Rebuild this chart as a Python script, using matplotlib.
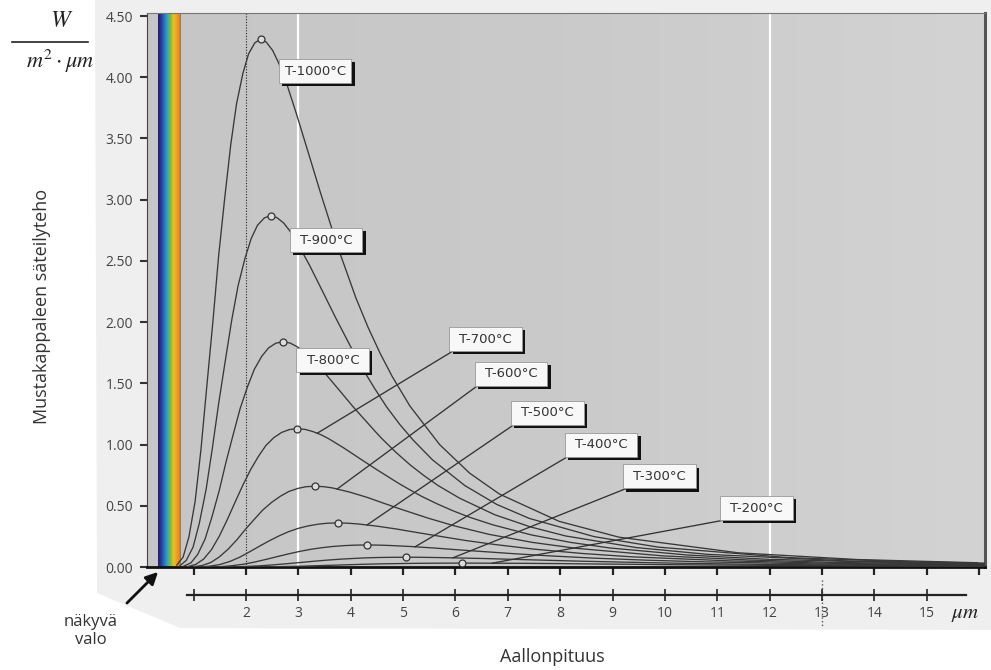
import numpy as np
import matplotlib.pyplot as plt
import matplotlib.transforms as mtransforms
from matplotlib.colors import LinearSegmentedColormap
from matplotlib.patches import Rectangle, Polygon, FancyArrowPatch
from matplotlib.lines import Line2D

plt.rcParams['font.family'] = ['Open Sans', 'DejaVu Sans']
plt.rcParams['mathtext.fontset'] = 'stix'

# %% data: wavelength (um) and spectral exitance per temperature
x_1000 = [0.68, 0.80, 0.91, 1.03, 1.14, 1.25, 1.37, 1.48, 1.60, 1.71, 1.82, 1.94, 2.05, 2.17, 2.28, 2.39,
          2.51, 2.62, 2.74, 2.96, 3.19, 3.42, 3.76, 3.88, 4.10, 4.33, 4.56, 4.79, 5.13, 5.70, 6.27, 6.84,
          7.98, 9.12, 11.40, 13.68, 15.96]
y_1000 = [0.016, 0.081, 0.244, 0.537, 0.956, 1.464, 2.010, 2.548, 3.035, 3.451, 3.783, 4.029, 4.191, 4.282,
          4.310, 4.286, 4.219, 4.121, 3.998, 3.706, 3.385, 3.061, 2.603, 2.461, 2.197, 1.959, 1.747, 1.558,
          1.315, 0.999, 0.767, 0.596, 0.373, 0.244, 0.116, 0.061, 0.035]

x_900 = [0.74, 0.86, 0.99, 1.11, 1.24, 1.36, 1.48, 1.61, 1.73, 1.85, 1.98, 2.10, 2.22, 2.35, 2.47, 2.59,
         2.72, 2.84, 2.96, 3.21, 3.46, 3.71, 4.08, 4.20, 4.45, 4.69, 4.94, 5.19, 5.56, 6.18, 6.79, 7.41,
         8.65, 9.88, 12.35, 14.82, 17.29]
y_900 = [0.011, 0.054, 0.162, 0.358, 0.636, 0.975, 1.339, 1.697, 2.021, 2.298, 2.519, 2.683, 2.791, 2.851,
         2.870, 2.854, 2.810, 2.744, 2.662, 2.468, 2.254, 2.038, 1.733, 1.639, 1.463, 1.305, 1.163, 1.038,
         0.876, 0.665, 0.511, 0.397, 0.248, 0.162, 0.077, 0.041, 0.024]

x_800 = [0.81, 0.95, 1.08, 1.22, 1.35, 1.49, 1.62, 1.76, 1.89, 2.03, 2.16, 2.30, 2.43, 2.57, 2.70, 2.84,
         2.97, 3.11, 3.24, 3.51, 3.78, 4.05, 4.46, 4.59, 4.86, 5.13, 5.40, 5.67, 6.08, 6.75, 7.43, 8.10,
         9.45, 10.80, 13.50, 16.20]
y_800 = [0.007, 0.034, 0.104, 0.229, 0.408, 0.625, 0.858, 1.088, 1.296, 1.473, 1.615, 1.720, 1.789, 1.828,
         1.840, 1.830, 1.801, 1.759, 1.707, 1.582, 1.445, 1.307, 1.111, 1.051, 0.938, 0.836, 0.746, 0.665,
         0.562, 0.427, 0.328, 0.254, 0.159, 0.104, 0.049, 0.026]

x_700 = [0.89, 1.04, 1.19, 1.34, 1.49, 1.64, 1.79, 1.94, 2.09, 2.24, 2.38, 2.53, 2.68, 2.83, 2.98, 3.13,
         3.28, 3.43, 3.58, 3.87, 4.17, 4.47, 4.92, 5.07, 5.36, 5.66, 5.96, 6.26, 6.71, 7.45, 8.20, 8.94,
         10.43, 11.92, 14.90, 17.88]
y_700 = [0.004, 0.021, 0.064, 0.141, 0.251, 0.384, 0.527, 0.668, 0.796, 0.905, 0.992, 1.056, 1.099, 1.123,
         1.130, 1.124, 1.106, 1.081, 1.048, 0.972, 0.887, 0.803, 0.682, 0.645, 0.576, 0.514, 0.458, 0.408,
         0.345, 0.262, 0.201, 0.156, 0.098, 0.064, 0.030, 0.016]

x_600 = [1.00, 1.16, 1.33, 1.49, 1.66, 1.83, 1.99, 2.16, 2.32, 2.49, 2.66, 2.82, 2.99, 3.15, 3.32, 3.49,
         3.65, 3.98, 4.32, 4.65, 4.98, 5.48, 5.98, 6.64, 7.47, 8.30, 9.96, 11.62, 13.28, 16.60]
y_600 = [0.003, 0.012, 0.037, 0.082, 0.146, 0.224, 0.308, 0.390, 0.465, 0.528, 0.579, 0.617, 0.642, 0.656,
         0.660, 0.656, 0.646, 0.612, 0.568, 0.518, 0.469, 0.399, 0.336, 0.267, 0.201, 0.153, 0.091, 0.057,
         0.037, 0.018]

x_500 = [1.13, 1.31, 1.50, 1.69, 1.88, 2.06, 2.25, 2.44, 2.63, 2.81, 3.00, 3.19, 3.38, 3.56, 3.75, 3.94,
         4.13, 4.50, 4.88, 5.25, 5.63, 6.19, 6.75, 7.50, 8.44, 9.38, 11.25, 13.13, 15.00, 18.75]
y_500 = [0.001, 0.007, 0.020, 0.045, 0.080, 0.122, 0.168, 0.213, 0.254, 0.288, 0.316, 0.336, 0.350, 0.358,
         0.360, 0.358, 0.352, 0.334, 0.310, 0.283, 0.256, 0.217, 0.184, 0.146, 0.110, 0.083, 0.050, 0.031,
         0.020, 0.010]

x_400 = [1.29, 1.51, 1.72, 1.94, 2.16, 2.37, 2.59, 2.80, 3.02, 3.23, 3.45, 3.66, 3.88, 4.09, 4.31, 4.53,
         4.74, 5.17, 5.60, 6.03, 6.47, 7.11, 7.76, 8.62, 9.70, 10.78, 12.93, 15.09, 17.24]
y_400 = [0.001, 0.003, 0.010, 0.022, 0.040, 0.061, 0.084, 0.106, 0.127, 0.144, 0.158, 0.168, 0.175, 0.1788,
         0.180, 0.1790, 0.176, 0.167, 0.155, 0.141, 0.128, 0.109, 0.092, 0.073, 0.055, 0.042, 0.025, 0.016,
         0.010]

x_300 = [1.52, 1.77, 2.02, 2.28, 2.53, 2.78, 3.04, 3.29, 3.54, 3.80, 4.05, 4.30, 4.55, 4.81, 5.06, 5.31,
         5.57, 6.07, 6.58, 7.08, 7.59, 8.35, 9.11, 10.12, 11.39, 12.65, 15.18, 17.71]
y_300 = [0.000, 0.001, 0.005, 0.010, 0.018, 0.027, 0.037, 0.047, 0.056, 0.064, 0.070, 0.075, 0.078, 0.0795,
         0.0800, 0.0796, 0.078, 0.074, 0.069, 0.063, 0.057, 0.048, 0.041, 0.032, 0.024, 0.019, 0.011, 0.007]

x_200 = [1.84, 2.15, 2.45, 2.76, 3.07, 3.37, 3.68, 3.98, 4.29, 4.60, 4.90, 5.21, 5.52, 5.82, 6.13, 6.44,
         6.74, 7.36, 7.97, 8.58, 9.20, 10.11, 11.03, 12.26, 13.79, 15.33, 18.39]
y_200 = [0.000, 0.001, 0.002, 0.004, 0.007, 0.011, 0.015, 0.019, 0.023, 0.026, 0.028, 0.030, 0.031, 0.0318,
         0.0320, 0.0318, 0.031, 0.030, 0.028, 0.025, 0.023, 0.019, 0.016, 0.013, 0.010, 0.007, 0.004]

labels = ['T-1000°C', 'T-900°C', 'T-800°C', 'T-700°C', 'T-600°C',
          'T-500°C', 'T-400°C', 'T-300°C', 'T-200°C']
curves = [(x_1000, y_1000), (x_900, y_900), (x_800, y_800), (x_700, y_700), (x_600, y_600),
          (x_500, y_500), (x_400, y_400), (x_300, y_300), (x_200, y_200)]

# label box centres and where the leader line meets the curve (None = no leader)
box_pos = [(3.32, 4.05), (3.53, 2.67), (3.66, 1.69), (6.58, 1.86), (7.06, 1.58),
           (7.75, 1.26), (8.78, 1.00), (9.90, 0.74), (11.75, 0.48)]
leader_x = [None, None, None, 3.36, 3.74, 4.31, 5.23, 5.95, 6.70]

x_ticks = list(range(1, 17))
y_ticks = [0.0, 0.5, 1.0, 1.5, 2.0, 2.5, 3.0, 3.5, 4.0, 4.5]

XMIN, XMAX, YMAX = 0.11, 16.11, 4.525

# %% figure
fig = plt.figure(figsize=(9.91, 6.70), dpi=100)
fig.patch.set_facecolor('white')

# light backdrop behind the chart
panel = Polygon([(95 / 991, 1.0), (1.0, 1.0), (1.0, 0.0597), (0.1816, 0.0627), (0.0979, 0.1149)],
                closed=True, transform=fig.transFigure, facecolor='#efefef', edgecolor='none', zorder=-5)
fig.patches.append(panel)

ax = fig.add_axes([0.1483, 0.1537, 0.8456, 0.8269])
ax.set_zorder(2)

bg = LinearSegmentedColormap.from_list('bg', ['#c6c6c6', '#cacaca', '#d3d3d4'])
ax.imshow(np.linspace(0, 1, 256).reshape(1, -1), cmap=bg, extent=[XMIN, XMAX, 0, YMAX],
          aspect='auto', zorder=0)

# visible light band
spectrum = LinearSegmentedColormap.from_list(
    'spec', ['#2a1d55', '#2b3a95', '#2a72c8', '#33a6c8', '#78bd4c', '#e6c420', '#f0a020', '#e2801c'])
ax.imshow(np.linspace(0, 1, 200).reshape(1, -1), cmap=spectrum, extent=[0.32, 0.74, 0, YMAX],
          aspect='auto', zorder=1)
ax.axvline(0.745, color='#9a6a2a', lw=0.6, zorder=1)

ax.axvline(2, color='#222222', ls=(0, (1, 1.5)), lw=0.8, zorder=2)
ax.axvline(3, color='white', lw=1.6, zorder=1)
ax.axvline(12, color='white', lw=1.6, zorder=1)

for (xs, ys), lab, (cx, cy), lx in zip(curves, labels, box_pos, leader_x):
    ax.plot(xs, ys, color='#383838', lw=0.95, zorder=3)
    i = int(np.argmax(ys))
    ax.plot(xs[i], ys[i], 'o', ms=5, mfc='#dcdcdc', mec='#333333', mew=0.9, zorder=4)
    w, h = 1.39, 0.196
    if lx is not None:
        ly = np.interp(lx, xs, ys)
        ax.plot([cx - w / 2 + 0.06, lx], [cy - h / 2, ly], color='#333333', lw=0.95, zorder=3)
    ax.add_patch(Rectangle((cx - w / 2 + 0.06, cy - h / 2 - 0.026), w, h, fc='#111111', ec='none', zorder=5))
    ax.add_patch(Rectangle((cx - w / 2, cy - h / 2), w, h, fc='#f8f8f8', ec='#999999', lw=0.6, zorder=6))
    ax.text(cx, cy, lab, ha='center', va='center', fontsize=9.5, color='#333333', zorder=7,
            family=['Liberation Sans Narrow', 'DejaVu Sans'])

ax.set_xlim(XMIN, XMAX)
ax.set_ylim(0, YMAX)
ax.set_xticks(x_ticks)
ax.set_xticklabels([])
ax.set_yticks(y_ticks)
ax.set_yticklabels(['%.2f' % v for v in y_ticks])
ax.tick_params(axis='y', direction='out', length=5, width=1.5, color='#333333', pad=5,
               labelsize=10, labelcolor='#444444')
ax.tick_params(axis='x', direction='out', length=6, width=1.6, color='#222222')
ax.spines['left'].set_color('#444444')
ax.spines['top'].set_color('#777777')
ax.spines['right'].set_color('#555555')
ax.spines['right'].set_linewidth(2.2)
ax.spines['bottom'].set_color('#111111')
ax.spines['bottom'].set_linewidth(2)

# second wavelength scale below the chart
ax2 = fig.add_axes([0.1483, 0.1119, 0.8456, 0.0001])
ax2.set_zorder(2)
ax2.patch.set_visible(False)
ax2.set_xlim(XMIN, XMAX)
for s in ['left', 'right', 'top']:
    ax2.spines[s].set_visible(False)
ax2.spines['bottom'].set_bounds(0.88, 15.75)
ax2.spines['bottom'].set_linewidth(1.6)
ax2.spines['bottom'].set_color('#222222')
ax2.set_yticks([])
ax2.set_xticks(list(range(1, 16)))
ax2.set_xticklabels([''] + [str(t) for t in range(2, 16)])
ax2.tick_params(axis='x', direction='inout', length=8, width=1.2, color='#222222', pad=4,
                labelsize=10, labelcolor='#444444')

blend = mtransforms.blended_transform_factory(ax.transData, fig.transFigure)
fig.add_artist(Line2D([13, 13], [0.1343, 0.0642], transform=blend, color='#555555', ls=':', lw=1))

# %% texts
fig.text(0.9738, 0.0836, r'$\mu m$', fontsize=15, ha='center', va='center', color='#222222')
fig.text(0.0626, 0.968, r'$W$', fontsize=17, ha='center', va='center', color='#222222')
fig.add_artist(Line2D([12 / 991, 88 / 991], [1 - 42 / 670] * 2, transform=fig.transFigure,
                      color='#222222', lw=1.2))
fig.text(0.0605, 0.909, r'$m^2\cdot\mu m$', fontsize=16, ha='center', va='center', color='#222222')

fig.text(0.0424, 0.542, 'Mustakappaleen säteilyteho', rotation=90, fontsize=13, color='#333333',
         ha='center', va='center')
fig.text(0.557, 0.019, 'Aallonpituus', fontsize=13, color='#333333', ha='center', va='center')
fig.text(91 / 991, 0.0582, 'näkyvä\nvalo', fontsize=12, color='#333333', ha='center', va='center',
         linespacing=1.15)
fig.add_artist(FancyArrowPatch((125 / 991, 65 / 670), (160 / 991, 100 / 670), transform=fig.transFigure,
                               arrowstyle='-|>', mutation_scale=18, color='#111111', lw=2))

fig.savefig('out.png', dpi=100)
